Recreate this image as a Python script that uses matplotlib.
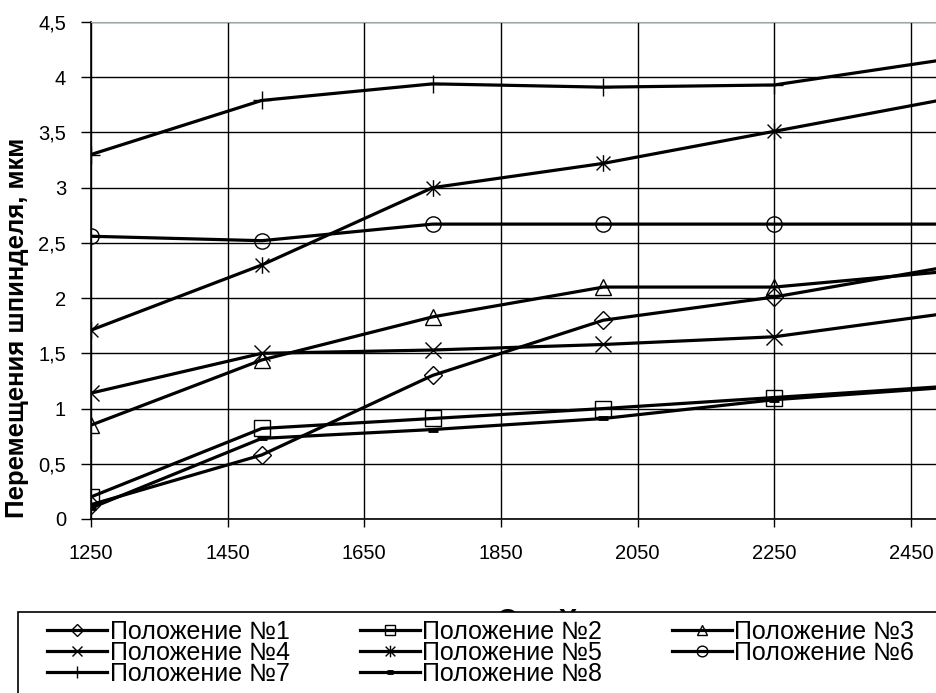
import numpy as np
import matplotlib.pyplot as plt
from matplotlib.path import Path
from matplotlib.patches import Rectangle

# обороты шпинделя
x = [1250, 1500, 1750, 2000, 2250, 2500]

# перемещения шпинделя, мкм (по положениям)
pol1 = [0.13, 0.58, 1.30, 1.80, 2.01, 2.28]
pol2 = [0.20, 0.82, 0.91, 1.00, 1.10, 1.20]
pol3 = [0.85, 1.44, 1.83, 2.10, 2.10, 2.24]
pol4 = [1.14, 1.50, 1.53, 1.58, 1.65, 1.86]
pol5 = [1.71, 2.30, 3.00, 3.22, 3.51, 3.80]
pol6 = [2.56, 2.52, 2.67, 2.67, 2.67, 2.67]
pol7 = [3.30, 3.79, 3.94, 3.91, 3.93, 4.16]
pol8 = [0.10, 0.73, 0.81, 0.91, 1.08, 1.19]

names = ["Положение №%d" % i for i in range(1, 9)]
yticks = [0, 0.5, 1, 1.5, 2, 2.5, 3, 3.5, 4, 4.5]
xticks = [1250, 1450, 1650, 1850, 2050, 2250, 2450]

# маркер "звездочка" как в Excel: крест + вертикальная черта
star = Path([(-1, -1), (1, 1), (-1, 1), (1, -1), (0, -1.2), (0, 1.2)],
            [Path.MOVETO, Path.LINETO, Path.MOVETO, Path.LINETO, Path.MOVETO, Path.LINETO])

markers = ['D', 's', '^', 'x', star, 'o', '+', '_']
msizes = [9, 11, 11, 11, 12, 11, 13, 7]

plt.rcParams['font.family'] = ['Liberation Sans', 'DejaVu Sans']

fig = plt.figure(figsize=(9.36, 6.93), dpi=100)
W, H = 936.0, 693.0
ax = fig.add_axes([91 / W, 1 - 519 / H, (945 - 91) / W, (519 - 22) / H])

series = [pol1, pol2, pol3, pol4, pol5, pol6, pol7, pol8]
lines = []
for i, y in enumerate(series):
    mew = 3.5 if markers[i] == '_' else 1.0
    ln, = ax.plot(x, y, color='black', lw=2.3, marker=markers[i], ms=msizes[i],
                  mfc='none', mec='black', mew=mew, zorder=3)
    lines.append(ln)

ax.set_xlim(1250, 2500)
ax.set_ylim(0, 4.5)
ax.set_xticks(xticks)
ax.set_yticks(yticks)
ax.set_yticklabels([("%g" % v).replace('.', ',') for v in yticks])
ax.tick_params(labelsize=14.5, width=1, color='black')
ax.tick_params(axis='y', length=7, pad=11)
ax.tick_params(axis='x', length=6, pad=12)
ax.grid(True, color='black', lw=1)
ax.set_axisbelow(True)
ax.spines['top'].set_color('#9aa8a8')
ax.spines['right'].set_visible(False)
for s in ['left', 'bottom']:
    ax.spines[s].set_linewidth(1.2)

fig.text(17 / W, 1 - 328 / H, "Перемещения шпинделя, мкм", rotation=90,
         ha='center', va='center', fontsize=18.5, fontweight='bold')

# подпись оси X почти закрыта легендой (видны только верхушки букв)
fig.text(537 / W, 1 - 628 / H, "Ось Х", ha='center', va='baseline',
         fontsize=20, fontweight='bold', zorder=2)

fig.patches.append(Rectangle((18 / W, -0.1), 1.2, 0.1 + (693 - 612) / H,
                             transform=fig.transFigure, facecolor='white',
                             edgecolor='black', lw=1.2, zorder=4))

order = [0, 3, 6, 1, 4, 7, 2, 5]
leg = fig.legend([lines[i] for i in order], [names[i] for i in order], ncol=3,
                 loc='upper left', bbox_to_anchor=(47 / W, 1 - 620 / H),
                 frameon=False, handlelength=2.4, handletextpad=0.1,
                 columnspacing=2.8, labelspacing=-0.12, borderpad=0,
                 borderaxespad=0, markerscale=0.7, prop={'size': 18})
leg.set_zorder(5)

plt.savefig("out.png", dpi=100)
